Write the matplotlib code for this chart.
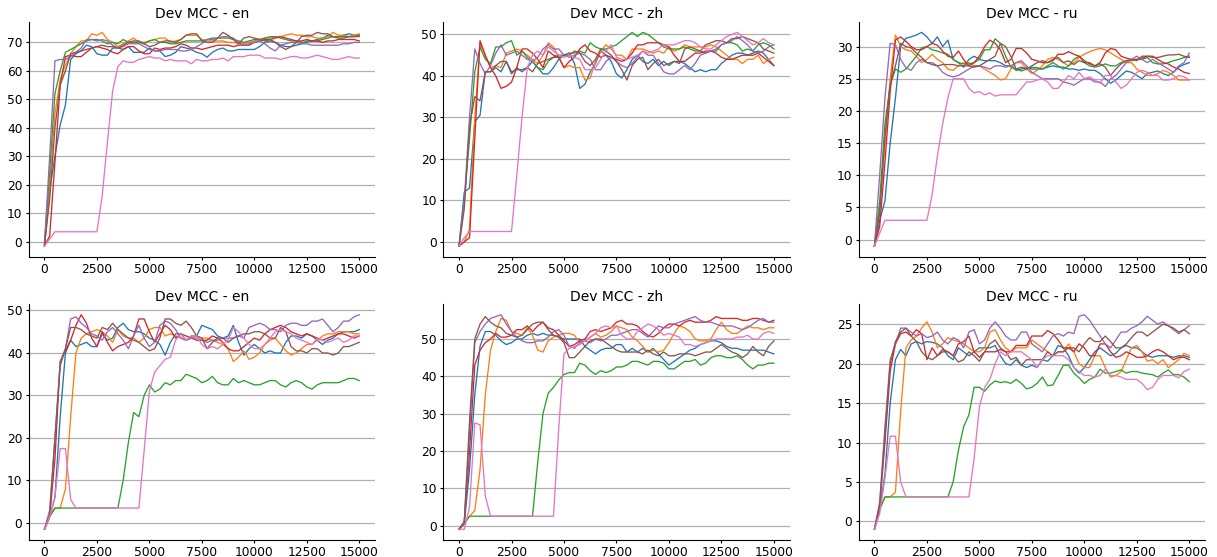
import numpy as np
import matplotlib
matplotlib.use("Agg")
import matplotlib.pyplot as plt

steps = list(range(0, 15001, 250))
titles = ["Dev MCC - en", "Dev MCC - zh", "Dev MCC - ru",
          "Dev MCC - en", "Dev MCC - zh", "Dev MCC - ru"]
colors = ["#1f77b4", "#ff7f0e", "#2ca02c", "#d62728", "#9467bd", "#8c564b", "#e377c2"]

# ---------------- top row, en ----------------
t_en_blue = [-1.5,
    18, 30, 41, 48, 64, 66, 67, 69, 68.5, 66,
    65.5, 65.5, 68, 68, 67.5, 68.5, 66.5, 66.5, 66.5, 68,
    67, 67, 65, 65.5, 66.5, 68.5, 68, 67.5, 66.5, 66,
    64.8, 66.5, 67.5, 68, 67, 67, 67.5, 67.5, 67.5, 67.5,
    68.5, 70, 70.5, 70, 69, 68.5, 68.5, 69, 69.5, 70.5,
    70.5, 71, 71.5, 72.5, 72, 72, 72.5, 73, 72.5, 72.5]
t_en_orange = [-1,
    20, 45, 57, 62, 66, 68.5, 70.5, 70.5, 73, 72.5,
    73.5, 71, 70, 68.5, 69.5, 70.5, 71.5, 70, 70, 70.5,
    71, 71.5, 71.5, 70, 70.5, 71, 72.5, 72.5, 72.5, 71,
    70.5, 70.5, 70.5, 70.5, 70, 70, 69.5, 69.5, 70, 70.5,
    71, 71.5, 71.5, 72, 72, 72.5, 73, 72.5, 72.5, 72,
    72, 71.5, 71.5, 72, 73.5, 72.5, 72.5, 72, 72.5, 73]
t_en_green = [-1,
    25, 52, 60, 66.5, 67.5, 68.5, 69.5, 70.5, 71, 71,
    70.5, 69.5, 70, 69.5, 71, 70, 70, 70, 69.5, 70.5,
    71, 70, 70, 69.5, 69.5, 70, 70.5, 70.5, 70.5, 70.5,
    71, 71.5, 71.5, 71.5, 71.5, 71, 70.5, 70, 70.5, 71,
    71, 71.5, 72, 72, 71.5, 71, 70.5, 70.5, 70, 70,
    70.5, 70.5, 71, 71.5, 72, 72, 72, 72, 72, 72]
t_en_red = [-1.5,
    2, 28, 55, 65, 65.5, 65, 65, 66.5, 68, 68.5,
    68, 67.5, 66.5, 66, 67.5, 68.5, 68.5, 67, 66, 66,
    68, 67.5, 68, 68, 68.5, 69.5, 69, 68, 68, 67.5,
    68, 68.5, 69, 69, 69, 68.5, 69, 69, 69, 70,
    70.5, 71, 71, 71.5, 72, 71.5, 71, 70.5, 70.5, 71,
    70.5, 70.5, 70, 70.5, 70.5, 71, 71, 71, 71, 70.5]
t_en_purple = [-1,
    30, 63.5, 64, 64, 65, 66.5, 68, 71, 71, 70.5,
    71, 70.5, 69, 68, 68.5, 69.5, 69.5, 69.5, 68.5, 67.5,
    67, 67, 67.5, 67.5, 67.5, 67, 67, 67.5, 68.5, 69.5,
    71, 71, 71.5, 72, 72, 71.5, 70, 69, 69.5, 70,
    70.5, 69.5, 68, 67, 69, 69.5, 70, 70, 69.5, 69.5,
    69, 69, 69, 69, 69, 69, 69.5, 69.5, 70, 70]
t_en_brown = [-1.5,
    15, 40, 55, 60, 66, 66.5, 67, 67.5, 68, 68.5,
    69, 68.5, 68.5, 68, 69, 70, 70.5, 70.5, 69.5, 68.5,
    69, 70, 70.5, 70.5, 70, 71, 72.5, 73, 73, 70.5,
    70, 70, 71.5, 73.5, 72.5, 71, 69.5, 71.5, 72, 71.5,
    71, 70.5, 71, 70, 68.5, 67.5, 68.5, 70, 72, 72.5,
    72.5, 73.5, 73, 73, 72, 71.5, 71.5, 72, 72, 72.5]
t_en_pink = [-1.5,
    1, 3.5, 3.5, 3.5, 3.5, 3.5, 3.5, 3.5, 3.5, 3.5,
    16, 35, 53, 61.5, 63.5, 63, 63, 64, 64.5, 65,
    64.5, 64.5, 63.5, 64, 63.5, 63.5, 63.5, 62.5, 64, 63.5,
    63.5, 64, 64, 64.5, 63.5, 65, 65, 65, 65.5, 65.5,
    65.5, 64.5, 64.5, 64.5, 64, 64.5, 65, 65, 64.5, 64.5,
    65, 65.5, 65, 64.5, 64, 64, 64.5, 65, 64.5, 64.5]

# ---------------- top row, zh ----------------
t_zh_blue = [-1,
    12, 13, 29, 30.5, 41, 41, 42, 41, 43.5, 40.5,
    42, 41, 42, 43.5, 42, 40.5, 40.5, 42, 44, 45,
    45.5, 43, 37, 38, 41, 43, 46, 45, 43.5, 40.5,
    39.5, 41.5, 44, 45, 43.5, 43, 44, 42.5, 43.5, 42.5,
    43.5, 43.5, 43, 42, 41, 41.5, 41, 41.5, 41.5, 43,
    44, 45, 45.5, 45.5, 45, 45.5, 46, 45.5, 44, 42.5]
t_zh_orange = [-1,
    0, 3, 30, 48, 45, 42, 42.5, 42, 45.5, 46,
    46.5, 46, 45, 44, 43, 45, 48, 47, 44.5, 42,
    42.5, 42, 42, 39, 39.5, 43.5, 46, 47.5, 46.5, 45,
    45, 44, 46.5, 46.5, 46.5, 46, 45.5, 46, 45.5, 47,
    46, 46.5, 47.5, 47, 47, 47, 47, 47.5, 47, 46,
    45, 44, 44, 43, 44, 44, 45, 43, 44, 44.5]
t_zh_green = [-1,
    10, 25, 41, 47, 44, 43, 47, 47, 48, 48.5,
    45, 46, 44.5, 43.5, 42, 41.5, 43.5, 44.5, 45, 45,
    45.5, 45.5, 46, 45.5, 48, 47, 46.5, 46.5, 47, 47.5,
    48.5, 49.5, 50.5, 49.5, 50.5, 50, 49, 48, 47, 46.5,
    46.5, 46.5, 47, 46.5, 46, 46, 45.5, 46, 46, 47.5,
    48, 48, 47.5, 46, 46.5, 46, 47.5, 48, 47.5, 46.5]
t_zh_red = [-1,
    0, 1, 25, 48.5, 45, 42, 40, 37, 37.5, 38.5,
    42, 46.5, 46.5, 45.5, 44, 42, 46, 45, 44.5, 42,
    43.5, 44.5, 46.5, 47.5, 46, 45.5, 44.5, 45, 44.5, 44,
    43.5, 44, 45.5, 47.5, 47.5, 48, 48, 48, 47.5, 47,
    45, 43.5, 43.5, 44.5, 45.5, 45.5, 46, 46, 45.5, 44.5,
    44, 44, 44.5, 45, 45, 45, 45.5, 44.5, 43.5, 42.5]
t_zh_purple = [-1,
    10, 30, 46.5, 43, 40.5, 42.5, 45.5, 47.5, 45, 45.5,
    46, 45, 44, 43.5, 44.5, 46.5, 47.5, 46.5, 46.5, 45,
    44.5, 45, 45.5, 45, 44, 41.5, 41.5, 43.5, 44.5, 43.5,
    42.5, 42, 43, 44.5, 46, 45, 45, 43, 41, 40.5,
    40.5, 41.5, 42.5, 41.5, 43, 45, 45.5, 46, 46.5, 47.5,
    48, 48.5, 49.5, 48.5, 47.5, 46, 45.5, 46, 47, 47.5]
t_zh_brown = [-1,
    8, 28, 35, 34, 41, 41, 42.5, 43.5, 43.5, 41,
    41.5, 41.5, 42, 41, 43, 43.5, 44, 44.5, 44.5, 45,
    45, 46, 45.5, 43.5, 42.5, 44, 46.5, 46, 45, 43.5,
    41.5, 39, 42.5, 44, 44.5, 41.5, 43, 44, 42.5, 43,
    43.5, 43, 46.5, 47, 46.5, 46, 47.5, 48, 48.5, 48.5,
    48, 49, 49, 49.5, 49, 48.5, 48, 46.5, 46, 45.5]
t_zh_pink = [-1,
    1, 2.5, 2.5, 2.5, 2.5, 2.5, 2.5, 2.5, 2.5, 2.5,
    16, 30, 42, 45, 46, 45, 47, 46, 45, 44.5,
    45, 44.5, 44, 41.5, 41.5, 42, 44, 46, 47.5, 44.5,
    44, 44, 44.5, 45, 46, 45.5, 46, 46.5, 47.5, 47.5,
    47.5, 48, 48.5, 48.5, 48, 47, 46.5, 46.5, 47.5, 48.5,
    49.5, 50, 50.5, 49.5, 48.5, 47.5, 48, 49, 48, 47.5]

# ---------------- top row, ru ----------------
t_ru_blue = [-1,
    3, 6, 15, 22, 30, 31.3, 31.5, 31.8, 32.2, 31.5,
    30.5, 31.5, 30, 31, 28, 27.5, 26.8, 28, 28.5, 28,
    27.8, 27.8, 27.8, 27.5, 27, 27, 26.3, 26.5, 26.8, 26.5,
    26.5, 26.5, 26.8, 27, 26.8, 26.8, 26.5, 26.5, 26.3, 26.5,
    26.3, 26.3, 25.8, 25, 24.3, 24.8, 25.5, 26.2, 26, 25.5,
    25, 25.8, 26, 26.2, 25.8, 25.5, 26, 26.8, 27.2, 27.5]
t_ru_orange = [-1,
    5, 15, 25, 31.8, 30, 29.5, 29.3, 28.5, 27.5, 28,
    28.8, 28, 27.5, 26.5, 26.3, 27, 27.5, 27.5, 27, 27,
    26.5, 26, 25.5, 24.8, 25, 26.5, 27.5, 27.5, 26.5, 25.8,
    26.3, 27, 28, 28.3, 28, 27.5, 27, 27.5, 28.3, 28.8,
    29.2, 29.5, 29.7, 29.5, 29, 28.5, 28, 27.5, 27.5, 26.5,
    26, 25.5, 25.5, 25.8, 26.3, 26, 25.5, 24.8, 24.8, 24.8]
t_ru_green = [-1,
    6, 18, 24, 26.5, 26, 26.5, 27.5, 28.5, 29.8, 30,
    29.5, 29.3, 29, 28.8, 28, 27.5, 27.3, 27.3, 27.5, 28,
    29.5, 29.5, 31.2, 30.5, 28.5, 26.8, 26.5, 26.2, 26.5, 26.8,
    26.7, 26.5, 27, 27.5, 27, 26.5, 27, 28, 28.5, 27.5,
    27, 26.8, 27, 27.3, 27, 27, 27.5, 27.8, 27.8, 28,
    28, 28.3, 27.5, 27.3, 27.3, 27.5, 27.8, 28, 28.3, 28.5]
t_ru_red = [-1,
    2, 12, 23, 31, 31.5, 30.8, 30, 29.5, 29.5, 30,
    30.5, 30.2, 29.3, 28.5, 28.3, 29.3, 28, 27, 27.5, 28.5,
    30, 31, 30.5, 29.5, 27.5, 28, 29.7, 29.7, 29, 28,
    27.8, 27.5, 27.5, 27.8, 28.8, 28.8, 29.2, 28.8, 28.5, 27.8,
    27.3, 27, 27.5, 29, 29.7, 29.5, 28.5, 28.2, 28, 28,
    28.2, 28.5, 28.5, 28, 27.5, 27.3, 26.8, 26.5, 26, 25.8]
t_ru_purple = [-1,
    10, 22, 30.5, 30.3, 28, 26.7, 26.3, 27.5, 28, 27.5,
    27.5, 27, 26, 25.5, 25.3, 25.5, 26, 26.5, 27, 27,
    26.8, 26.5, 27, 27, 26.8, 27, 27.5, 27.8, 27, 26,
    25.5, 25, 25, 25, 25, 24.5, 24.3, 24, 24.5, 25,
    25, 24.5, 24.5, 23.8, 25, 25.5, 26.5, 27.5, 28, 28.5,
    28, 27.5, 28, 27.5, 27, 26.5, 26, 27, 27.5, 29]
t_ru_brown = [-1,
    4, 16, 24, 27, 30.5, 30, 29.8, 29, 28.3, 27.5,
    27.2, 27, 27.2, 27.2, 27.2, 27, 27, 27, 26.8, 27,
    27.5, 28, 28.5, 30.5, 30, 28.5, 26.5, 26.8, 26.5, 27,
    27.5, 27.8, 27.5, 28, 28.3, 27.5, 27.8, 27.2, 27.8, 27.5,
    27.5, 27, 27.3, 26.8, 25.5, 26.5, 27.3, 27.8, 28, 27.8,
    28.5, 28.5, 28.3, 28.3, 28.5, 28.7, 28.7, 28.8, 28.5, 28.3]
t_ru_pink = [-1,
    1, 3, 3, 3, 3, 3, 3, 3, 3, 3,
    7, 13, 18, 22, 25, 25, 25, 23.5, 22.8, 23,
    22.5, 22.8, 22.3, 22.5, 22.5, 22.5, 22.5, 23.5, 24.5, 24.5,
    24.8, 25, 24.5, 23.5, 23.5, 24.5, 25.5, 25, 26, 25,
    25.3, 24.8, 24.3, 25.5, 25.5, 24.5, 23.5, 24, 25, 26,
    26.3, 26, 25.5, 25.5, 24.8, 24.8, 25, 25.5, 25.3, 24.8]

# ---------------- bottom row, en ----------------
b_en_blue = [-1.5,
    1.5, 6, 25, 40, 43, 41.5, 42, 42.5, 41.5, 41.5,
    44.5, 43, 43.5, 46, 47, 45.5, 45, 45, 44.5, 43.5,
    43, 42, 39.5, 42.5, 44.5, 44.5, 43, 44, 44, 46.5,
    46, 45.5, 44, 43.5, 44, 46.5, 42.5, 39.5, 41, 42,
    41, 40, 40.5, 40, 40, 42.5, 44, 44, 43.5, 44.5,
    44, 43, 42, 43, 43.5, 44.5, 45, 45, 45, 45.5]
b_en_orange = [-1.5,
    1.5, 3.5, 3.5, 8, 25, 40, 43.5, 44.5, 45, 45.5,
    45, 44, 42.5, 45.5, 44, 43.5, 43.5, 42.5, 43.5, 45.5,
    46, 46, 44, 44.5, 44, 43.5, 43, 43.5, 44, 43.5,
    43.5, 43, 42.5, 42, 41, 38, 39, 40.5, 38.5, 39,
    40, 42, 43, 43.5, 42, 40.5, 39.5, 40, 41, 42,
    42, 43, 44, 44.5, 44.5, 45, 45, 45, 44.5, 44.5]
b_en_green = [-1.5,
    1.5, 3.5, 3.5, 3.5, 3.5, 3.5, 3.5, 3.5, 3.5, 3.5,
    3.5, 3.5, 3.5, 3.5, 10, 19, 26, 25, 30, 32.5,
    30.8, 31.5, 33, 32.5, 33.5, 33.5, 35, 34.5, 34, 33,
    33.5, 34.5, 33, 32.5, 32.5, 34, 33, 33.5, 33, 32.5,
    32.5, 33, 33.5, 33.5, 32.5, 32, 33, 33.5, 33, 32,
    31.5, 32.5, 33, 33, 33, 33, 33.5, 34, 34, 33.5]
b_en_red = [-1.5,
    1.5, 15, 38, 40.5, 43, 46.5, 49, 47, 43.5, 41.5,
    45, 42.5, 40.5, 41.5, 42, 42.5, 44, 48, 48, 45,
    42.5, 44.5, 46.5, 45.5, 43.5, 44.5, 44, 43.5, 43, 43,
    43, 44, 43.5, 42.5, 41, 40.5, 40.5, 41.5, 42.5, 43.5,
    43, 44.5, 45.5, 46, 46.5, 46, 45, 44.5, 44, 44.5,
    44, 43.5, 43, 43.5, 44, 44.5, 44.5, 44, 43.5, 44]
b_en_purple = [-1.5,
    3, 20, 38, 41, 48, 48.5, 47, 46, 44.5, 44,
    43, 45, 46, 44.5, 43, 41, 44, 46.5, 43.5, 41.5,
    42.5, 46.5, 47.5, 47, 45.5, 43.5, 43, 43.5, 43.5, 43,
    42.5, 43, 43, 43.5, 43.5, 43.5, 44, 43.5, 46, 46.5,
    47, 46.5, 45.5, 45.5, 45, 46.5, 47, 47, 46.5, 46.5,
    47.5, 47.5, 48, 46.5, 45, 46, 47.5, 47.5, 48.5, 49]
b_en_brown = [-1.5,
    2, 20, 37, 41, 46, 46, 45.5, 44.5, 44, 43.5,
    46, 45.5, 47, 45.5, 44.5, 43.5, 43, 42.5, 41.5, 40.5,
    41, 43.5, 48, 48, 47, 46.5, 47.5, 46, 44, 43.5,
    41, 42.5, 43.5, 43.5, 42.5, 43.5, 44, 44.5, 44.5, 45,
    45, 44.5, 43.5, 43.5, 46, 45, 41.5, 40.5, 40.5, 40,
    41, 41, 40, 40, 39.5, 40, 41.5, 41.5, 42, 42.5]
b_en_pink = [-1.5,
    1.5, 6, 17.5, 17.5, 5.5, 3.5, 3.5, 3.5, 3.5, 3.5,
    3.5, 3.5, 3.5, 3.5, 3.5, 3.5, 3.5, 3.5, 17, 31,
    35.5, 37, 38.5, 39, 43, 44.5, 43, 44, 44, 42,
    41, 41.5, 41, 42, 43, 46, 45, 43.5, 42, 41,
    41, 42, 43.5, 45, 45.5, 45, 44.5, 43.5, 43, 42.5,
    42, 43.5, 43, 42.5, 43, 43.5, 42.5, 43, 44, 44]

# ---------------- bottom row, zh ----------------
b_zh_blue = [-1,
    0.5, 15, 35, 48, 52, 52, 51, 49.5, 48.5, 49,
    50, 50, 51, 51.5, 51, 51.5, 51, 51, 50.5, 50,
    50, 50, 50, 48, 47, 46, 47, 47.5, 47.5, 48.5,
    48.5, 46.5, 47.5, 46.5, 47.5, 46.5, 47.5, 46, 44.5, 43,
    44, 45, 46, 47, 47.5, 48.5, 49, 49.5, 49.5, 49,
    48, 47.5, 47.5, 47, 47, 47, 47, 47, 46.5, 46]
b_zh_orange = [-1,
    0.5, 2.5, 4, 15, 35, 47, 52, 55.5, 55, 52,
    51.5, 51, 53, 51, 47, 46.5, 49.5, 50.5, 51, 51.5,
    51.5, 51, 49, 49.5, 50.5, 51.5, 50.5, 51, 52, 53.5,
    53, 52.5, 50.5, 49.5, 48, 46.5, 47, 46.5, 47, 49,
    51.5, 53.5, 53, 52, 50, 49.5, 49.5, 50, 52.5, 54.5,
    52.5, 51.5, 51.5, 52.5, 53.5, 53, 53, 52.5, 53, 53]
b_zh_green = [-1,
    0.5, 2.5, 2.5, 2.5, 2.5, 2.5, 2.5, 2.5, 2.5, 2.5,
    2.5, 2.5, 2.5, 2.5, 17, 30, 35.5, 37, 39, 40.5,
    41, 41, 43.5, 43, 41.5, 40.5, 41.5, 41, 41.5, 42.5,
    42.5, 43, 44, 44, 43.5, 43, 44, 44, 43.5, 42,
    42, 43, 44, 44, 44.5, 43, 43.5, 45, 45.5, 45.5,
    45, 45, 45.5, 44.5, 43, 42, 43, 43, 43.5, 43.5]
b_zh_red = [-1,
    1, 20, 43, 47, 49, 50, 51.5, 50.5, 50.5, 51,
    52.5, 52.5, 53.5, 52, 53.5, 54.5, 53, 52.5, 51, 49.5,
    48, 48.5, 49.5, 50, 52, 52.5, 52, 52.5, 53, 54.5,
    55, 54, 54, 53.5, 52, 51, 50.5, 51.5, 53, 54,
    54, 53.5, 54.5, 55, 54.5, 54.5, 54.5, 55, 56, 55.5,
    55.5, 55.5, 55.5, 55, 55, 55.5, 55.5, 55, 54.5, 55]
b_zh_purple = [-1,
    1, 25, 49, 52, 54, 55.5, 56, 56.5, 54, 52,
    50.5, 49.5, 49, 49, 49.5, 49.5, 50.5, 52, 52.5, 51,
    48, 47.5, 49, 49.5, 49, 50, 49.5, 50, 51, 51,
    51.5, 52, 52.5, 52.5, 51.5, 50.5, 52, 53.5, 53, 53,
    54, 54.5, 55, 55.5, 56, 55, 54.5, 54.5, 54, 53.5,
    53.5, 53.5, 53, 52.5, 53, 54, 55, 55.5, 54.5, 54.5]
b_zh_brown = [-1,
    1, 28, 50, 54, 56, 54.5, 53.5, 53, 51.5, 51,
    50.5, 51, 52.5, 54, 54.5, 54.5, 52.5, 51, 50.5, 49,
    45, 45, 46.5, 48, 49.5, 50, 50, 49, 48, 47,
    46.5, 46.5, 46.5, 46.5, 46, 47, 46, 45.5, 46.5, 45.5,
    45.5, 46, 46, 46, 45.5, 46, 46.5, 46.5, 47.5, 48.5,
    47.5, 46.5, 46, 45, 46, 48, 46.5, 45.5, 48, 49.5]
b_zh_pink = [-1,
    -1, 5, 27.5, 27, 8, 2.5, 2.5, 2.5, 2.5, 2.5,
    2.5, 2.5, 2.5, 2.5, 2.5, 2.5, 2.5, 2.5, 26, 46,
    47.5, 48, 48.5, 49.5, 50.5, 51.5, 53, 53.5, 53, 53.5,
    51, 50, 50, 52, 53, 54, 53.5, 52.5, 51, 51.5,
    51, 50.5, 48.5, 48.5, 48, 48.5, 49, 49.5, 50, 50,
    50, 50, 50.5, 50.5, 51, 50, 50, 51.5, 52, 51.5]

# ---------------- bottom row, ru ----------------
b_ru_blue = [-1,
    1.5, 6, 15, 20.5, 21.8, 21, 22.5, 22.8, 22.5, 22.8,
    22.7, 22.5, 22, 21, 20.5, 22, 21.5, 21, 21.5, 22,
    22, 22, 22.3, 21, 20, 19.8, 20.5, 19.8, 19.5, 19.8,
    19.5, 20.5, 20.3, 21, 22.3, 22, 21, 19.5, 18.8, 19.5,
    20.5, 21.5, 22, 21.5, 21, 21.3, 22, 22.3, 22, 22,
    21.5, 21, 20.8, 21, 21, 21, 20.8, 21, 21, 20.8]
b_ru_orange = [-1,
    1.5, 3.1, 3.1, 3.7, 14, 22, 23, 23.5, 24.5, 25.3,
    24, 22, 22.5, 23.3, 23, 22.8, 22.5, 22, 21.5, 21.5,
    22, 24, 24.3, 23, 22, 21.5, 22, 22, 22, 23,
    22.5, 22, 21.5, 21, 21.5, 21.5, 22.5, 21.5, 20, 19.5,
    19.5, 21, 21, 19.5, 18.3, 18.5, 19, 20.5, 22, 22.3,
    21.5, 20.3, 20.5, 20, 20.5, 19.5, 20, 20.5, 21.3, 21]
b_ru_green = [-1,
    1.5, 3.1, 3.1, 3.1, 3.1, 3.1, 3.1, 3.1, 3.1, 3.1,
    3.1, 3.1, 3.1, 3.1, 5, 9, 12, 13.5, 17, 17,
    16.5, 17.3, 17.8, 17.6, 17.7, 17.5, 18, 17.5, 16.8, 17,
    17.5, 18.3, 17.2, 17.3, 18.5, 19.8, 19.8, 18.8, 18.2, 17.5,
    18, 18.3, 19.3, 18.8, 18.8, 19, 19.2, 18.8, 19, 19,
    18.8, 18.7, 18.6, 18.3, 18.8, 19.2, 18.6, 18.6, 18.3, 17.7]
b_ru_red = [-1,
    2, 10, 19, 22.5, 23.8, 24, 23.5, 24.3, 23.8, 20.5,
    22, 21, 21.8, 21.5, 21, 22.5, 22.8, 23.5, 21.5, 20.8,
    21.5, 21.5, 21.5, 21.8, 21.5, 21.5, 22.3, 22.3, 22.3, 23.5,
    23.5, 23.5, 24.2, 23.8, 23, 22, 22, 21.5, 22.5, 22,
    21, 21, 22.5, 22.5, 21.5, 20.8, 21, 21.5, 21.2, 20.8,
    20.8, 21, 21.5, 21.8, 21.5, 21, 20.5, 20.8, 20.8, 20.5]
b_ru_purple = [-1,
    2.5, 12, 20.5, 22.5, 24.5, 24.5, 24, 23.5, 23.8, 23.3,
    23.5, 24, 23, 22.5, 23.3, 23, 22, 24, 24.3, 22.5,
    23, 24.5, 25.3, 24.5, 23.5, 23, 23, 24, 24, 22.5,
    22, 21.5, 22.5, 23.5, 23.8, 23.5, 24, 23.8, 26, 26.2,
    25.5, 24.5, 23.5, 22.5, 22, 23, 24, 24, 24.5, 24.8,
    25.3, 26, 25.5, 25, 25.3, 24.8, 24.3, 23.8, 24.3, 24.8]
b_ru_brown = [-1,
    2, 11, 20, 22.8, 24, 24.5, 23.5, 22.8, 21.5, 20.8,
    20.5, 21, 21.5, 21.5, 21, 20.2, 20.5, 21.5, 21, 20.3,
    21.5, 22.5, 23, 22, 21.5, 20.5, 20.8, 19.8, 20.5, 20.5,
    20.5, 20.5, 21.5, 21, 21.5, 21.5, 22, 22, 21.5, 22.5,
    23.3, 22.8, 22.8, 23.5, 22.8, 22, 22, 22.5, 23.3, 24,
    24, 23.5, 24, 24.5, 25, 24.8, 24.5, 24, 24.3, 23.8]
b_ru_pink = [-1,
    1, 5.5, 10.8, 10.8, 5, 3.1, 3.1, 3.1, 3.1, 3.1,
    3.1, 3.1, 3.1, 3.1, 3.1, 3.1, 3.1, 3.1, 8, 14.5,
    17, 18, 20, 21.5, 21, 21.5, 21.5, 21.5, 21, 20.5,
    19.5, 20.5, 21, 21, 21, 21, 20.5, 19.5, 19, 18.5,
    18.5, 18.3, 18.5, 19.3, 18.5, 18.5, 18.3, 18, 18, 18,
    17.5, 16.7, 17, 18, 18.5, 18.5, 18.5, 18.2, 19, 19.3]

panels = [
    [t_en_blue, t_en_orange, t_en_green, t_en_red, t_en_purple, t_en_brown, t_en_pink],
    [t_zh_blue, t_zh_orange, t_zh_green, t_zh_red, t_zh_purple, t_zh_brown, t_zh_pink],
    [t_ru_blue, t_ru_orange, t_ru_green, t_ru_red, t_ru_purple, t_ru_brown, t_ru_pink],
    [b_en_blue, b_en_orange, b_en_green, b_en_red, b_en_purple, b_en_brown, b_en_pink],
    [b_zh_blue, b_zh_orange, b_zh_green, b_zh_red, b_zh_purple, b_zh_brown, b_zh_pink],
    [b_ru_blue, b_ru_orange, b_ru_green, b_ru_red, b_ru_purple, b_ru_brown, b_ru_pink],
]

W, H = 1217, 557
fig = plt.figure(figsize=(W / 100, H / 100), dpi=100)
lefts = [28.7, 443.3, 858.7]
width = 346.3
rows = [(21.7, 256.7), (304.0, 540.0)]

for i, (series, title) in enumerate(zip(panels, titles)):
    r, c = divmod(i, 3)
    top, bot = rows[r]
    ax = fig.add_axes([lefts[c] / W, 1 - bot / H, width / W, (bot - top) / H])
    for ys, col in zip(series, colors):
        ax.plot(steps[:len(ys)], ys, color=col, lw=0.95)
    ax.set_title(title, fontsize=10, pad=2.5)
    ax.grid(axis="y", color="#b0b0b0", lw=0.9)
    ax.set_axisbelow(True)
    for s in ["top", "right"]:
        ax.spines[s].set_visible(False)
    ax.tick_params(labelsize=8.8, length=2.5, pad=2, width=0.8)
    ax.set_xticks([0, 2500, 5000, 7500, 10000, 12500, 15000])

fig.savefig("out.png", dpi=100)
